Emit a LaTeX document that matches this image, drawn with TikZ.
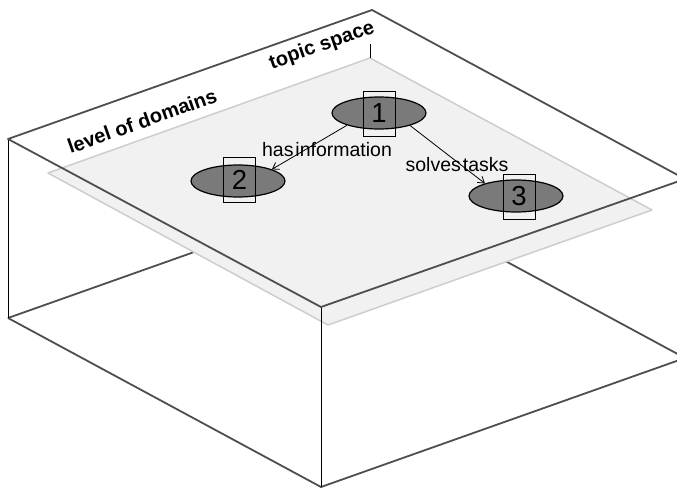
\documentclass[tikz,border=0pt]{standalone}
\usepackage{fontspec}
\setmainfont{Liberation Sans}
\usetikzlibrary{arrows.meta,shapes.geometric}
\definecolor{edgegray}{RGB}{78,78,78}
\definecolor{planefill}{RGB}{241,241,241}
\definecolor{planeline}{RGB}{205,205,205}
\definecolor{ellfill}{RGB}{122,122,122}
\newcommand{\tightspace}{\spaceskip=0.1em\relax}
\tikzset{
  boxedge/.style={draw=edgegray, line width=1.8pt},
  vedge/.style={draw=black, line width=0.9pt},
  plane/.style={fill=planefill, draw=planeline, line width=1.5pt, line join=round},
  topic/.style={ellipse, draw=black, fill=ellfill, line width=1.2pt, minimum width=94pt, minimum height=32pt, inner sep=0pt},
  numbox/.style={rectangle, draw=black, line width=0.8pt, minimum width=32pt, minimum height=45pt, inner sep=0pt, font=\fontsize{27.5}{27.5}\selectfont},
  rel/.style={draw=black, line width=0.8pt, -{Straight Barb[length=6pt,width=8pt]}},
  rellabel/.style={inner sep=0pt, font=\fontsize{19.5}{19.5}\selectfont\tightspace},
  spacelabel/.style={inner sep=0pt, rotate=19.5, font=\bfseries\fontsize{20}{20}\selectfont}
}
\begin{document}
\begin{tikzpicture}[x=1pt,y=-1pt]
\useasboundingbox (0,0) rectangle (677,489);
\clip (0,0) rectangle (677,489);
% box corners
\coordinate (L) at (8,139);
\coordinate (B) at (372,10);
\coordinate (R) at (685,179);
\coordinate (F) at (321,307);
\coordinate (L2) at (8,318);
\coordinate (B2) at (372,189);
\coordinate (R2) at (685,358);
\coordinate (F2) at (321,487);
% plane corners
\coordinate (PL) at (48,173);
\coordinate (PT) at (370,58);
\coordinate (PR) at (652,210);
\coordinate (PB) at (328,325);
\coordinate (tick) at (370,44);
% hidden back edges of the bottom face
\draw[boxedge] (L2) -- (B2) -- (R2);
% the plane
\draw[plane] (PL) -- (PT) -- (PR) -- (PB) -- cycle;
\draw[vedge] (tick) -- (PT);
% front bottom edges
\draw[boxedge] (L2) -- (F2) -- (R2);
% verticals
\draw[vedge] (L) -- (L2);
\draw[vedge] (F) -- (F2);
% top face
\draw[boxedge, line join=round] (L) -- (B) -- (R) -- (F) -- cycle;
% labels of the spaces
\node[spacelabel] (dom) at (142,121) {level of domains};
\node[spacelabel] (top) at (322,46) {topic space};
% topics
\node[topic] (e1) at (379,113) {};
\node[topic] (e2) at (238,181) {};
\node[topic] (e3) at (516,196) {};
\node[numbox] (n1) at (379,113.5) {1};
\node[numbox] (n2) at (239.5,179.5) {2};
\node[numbox] (n3) at (519,196.5) {3};
% relations
\draw[rel] (e1.201.5) -- (e2.19.4);
\draw[rel] (e1.-22) -- (e3.158.5);
\node[rellabel] (l1) at (327,150) {has information};
\node[rellabel] (l2) at (457,165) {solves tasks};
\end{tikzpicture}
\end{document}
